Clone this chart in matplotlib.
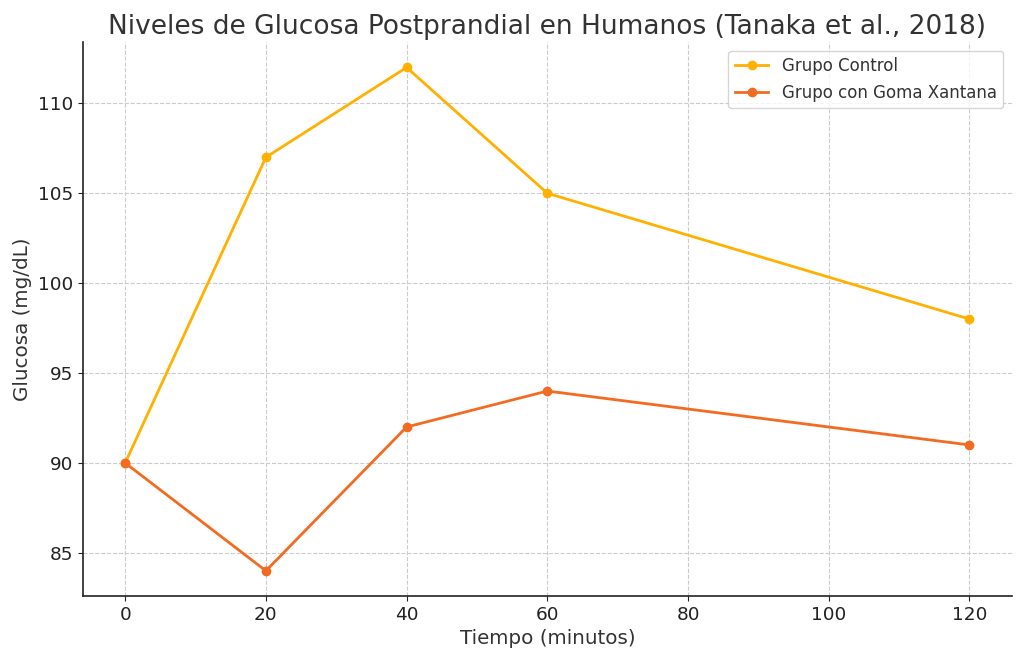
import matplotlib
matplotlib.use("Agg")
import matplotlib.pyplot as plt

tiempo = [0, 20, 40, 60, 120]
control = [90, 107, 112, 105, 98]
xantana = [90, 84, 92, 94, 91]

fig, ax = plt.subplots(figsize=(10.24, 6.6), dpi=100)
fig.subplots_adjust(left=0.081, right=0.988, top=0.936, bottom=0.097)

ax.plot(tiempo, control, marker="o", color="#FFB000", linewidth=2, markersize=6, label="Grupo Control")
ax.plot(tiempo, xantana, marker="o", color="#F26B21", linewidth=2, markersize=6, label="Grupo con Goma Xantana")

ax.set_title("Niveles de Glucosa Postprandial en Humanos (Tanaka et al., 2018)", fontsize=19, color="#333333")
ax.set_xlabel("Tiempo (minutos)", fontsize=14.3, color="#333333")
ax.set_ylabel("Glucosa (mg/dL)", fontsize=14.3, color="#333333")
ax.tick_params(labelsize=13.3, colors="#222222")
ax.grid(True, linestyle="--", color="#cccccc", linewidth=0.8)
ax.spines["top"].set_visible(False)
ax.spines["right"].set_visible(False)
for s in ("left", "bottom"):
    ax.spines[s].set_color("#222222")
    ax.spines[s].set_linewidth(1.2)
ax.legend(loc="upper right", fontsize=12, labelcolor="#333333")

fig.savefig("out.png", dpi=100)
